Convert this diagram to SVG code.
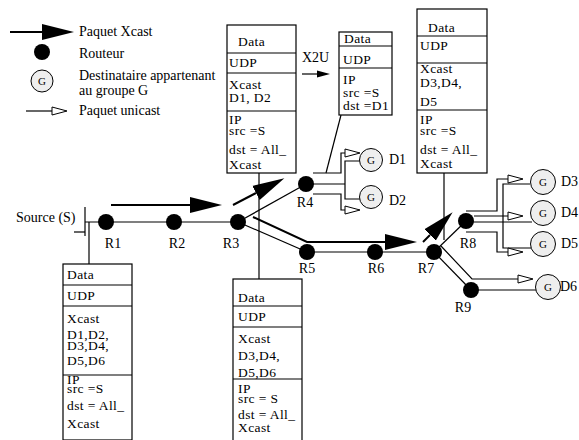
<svg xmlns="http://www.w3.org/2000/svg" width="579" height="440" viewBox="0 0 579 440" font-family="'Liberation Serif', 'Times New Roman', serif">
<defs>
<marker id="xh" markerUnits="userSpaceOnUse" markerWidth="34" markerHeight="20" viewBox="0 -10 34 20" refX="0" refY="0" orient="auto"><path d="M0,-8 L32,0 L0,8 z" fill="#000"/></marker>
<marker id="sh" markerUnits="userSpaceOnUse" markerWidth="15" markerHeight="10" viewBox="0 -5 15 10" refX="0" refY="0" orient="auto"><path d="M0,-3.5 L13,0 L0,3.5 z" fill="#000"/></marker>
<marker id="uh" markerUnits="userSpaceOnUse" markerWidth="18" markerHeight="12" viewBox="-1 -6 18 12" refX="0" refY="0" orient="auto"><path d="M0,-4 L15,0 L0,4 z" fill="#fff" stroke="#000" stroke-width="1"/></marker>
</defs>
<style>
text{font-family:'Liberation Serif','Times New Roman',serif;fill:#000}
.lg{font-size:14px}
.lb{font-size:14px}
.bx{font-size:13.5px;letter-spacing:0.4px}
.g{font-size:11px;text-anchor:middle}
.mid{text-anchor:middle}
.box{fill:#fff;stroke:#000;stroke-width:1.2}
.dv{stroke:#000;stroke-width:1.2}
.link{fill:none;stroke:#000;stroke-width:1.2}
.xc{fill:none;stroke:#000;stroke-width:2}
.uc{fill:none;stroke:#000;stroke-width:1.2}
.rt{fill:#000}
.dst{fill:#eee;stroke:#000;stroke-width:1}
</style>
<rect width="579" height="440" fill="#fff"/>

<g id="legend">
<line x1="10" y1="32" x2="42" y2="32" class="xc" marker-end="url(#xh)"/>
<text class="lg" x="79" y="36">Paquet Xcast</text>
<circle cx="42" cy="52" r="8" class="rt"/>
<text class="lg" x="79" y="58">Routeur</text>
<circle cx="42" cy="81" r="11" class="dst"/>
<text class="g" x="42" y="85">G</text>
<text class="lg" x="79" y="80">Destinataire appartenant</text>
<text class="lg" x="79" y="95">au groupe G</text>
<line x1="26" y1="111" x2="52" y2="111" class="uc" marker-end="url(#uh)"/>
<text class="lg" x="79" y="115">Paquet unicast</text>
</g>

<g id="connectors">
<polyline class="link" points="85,222 238,222"/>
<line class="link" x1="238" y1="222" x2="306" y2="184"/>
<line class="link" x1="238" y1="222" x2="307" y2="252"/>
<line class="link" x1="307" y1="252" x2="434" y2="252"/>
<line class="link" x1="434" y1="252" x2="466" y2="221"/>
<line class="link" x1="434" y1="252" x2="471" y2="290"/>
<line class="link" x1="471" y1="290" x2="536" y2="290"/>
<polyline class="link" points="306,184 345,184"/>
<polyline class="link" points="360,161 345,161 345,199 360,199"/>
<polyline class="link" points="466,222 532,222"/>
<polyline class="link" points="530,184 503,184 503,248 531,248"/>
<line class="xc" x1="111" y1="205" x2="190" y2="205" marker-end="url(#xh)"/>
<line class="xc" x1="233" y1="205" x2="256" y2="193" marker-end="url(#xh)"/>
<polyline class="xc" points="253,217 307,242 385,242" marker-end="url(#xh)"/>
<line class="xc" x1="423" y1="242" x2="430" y2="235" marker-end="url(#xh)"/>
<polyline class="uc" points="313,173 341,173 341,153 345,153" marker-end="url(#uh)"/>
<polyline class="uc" points="313,194 341,194 341,210 345,210" marker-end="url(#uh)"/>
<polyline class="uc" points="466,211 497,211 497,179 508,179" marker-end="url(#uh)"/>
<polyline class="uc" points="474,216 508,216" marker-end="url(#uh)"/>
<polyline class="uc" points="466,232 497,232 497,252 508,252" marker-end="url(#uh)"/>
<polyline class="uc" points="441,246 472,279 518,279" marker-end="url(#uh)"/>
<line x1="302" y1="74" x2="317" y2="74" stroke="#000" stroke-width="1.2" marker-end="url(#sh)"/>
<line class="link" x1="89" y1="222" x2="89" y2="264"/>
<line class="link" x1="259" y1="173" x2="259" y2="279"/>
<line class="link" x1="341" y1="115" x2="326" y2="173"/>
<line class="link" x1="444" y1="173" x2="444" y2="240"/>
</g>

<g id="source">
<line x1="85" y1="207" x2="85" y2="236" stroke="#000" stroke-width="1.2"/>
<line x1="74" y1="232" x2="85" y2="232" stroke="#000" stroke-width="1.2"/>
<text class="lb" x="16" y="222">Source (S)</text>
</g>

<g id="R1"><circle cx="106" cy="222" r="8" class="rt"/><text class="lb mid" x="113" y="248">R1</text></g>
<g id="R2"><circle cx="174" cy="222" r="8" class="rt"/><text class="lb mid" x="177" y="248">R2</text></g>
<g id="R3"><circle cx="238" cy="222" r="8" class="rt"/><text class="lb mid" x="231" y="248">R3</text></g>
<g id="R4"><circle cx="306" cy="184" r="8" class="rt"/><text class="lb mid" x="305" y="207">R4</text></g>
<g id="R5"><circle cx="307" cy="252" r="8" class="rt"/><text class="lb mid" x="307" y="273">R5</text></g>
<g id="R6"><circle cx="375" cy="252" r="8" class="rt"/><text class="lb mid" x="376" y="273">R6</text></g>
<g id="R7"><circle cx="434" cy="252" r="8" class="rt"/><text class="lb mid" x="426" y="273">R7</text></g>
<g id="R8"><circle cx="466" cy="221" r="8" class="rt"/><text class="lb mid" x="468" y="248">R8</text></g>
<g id="R9"><circle cx="471" cy="290" r="8" class="rt"/><text class="lb mid" x="463" y="312">R9</text></g>

<g id="D1"><circle cx="371" cy="160" r="11.5" class="dst"/><text class="g" x="371" y="164">G</text><text class="lb" x="389" y="164">D1</text></g>
<g id="D2"><circle cx="371" cy="197" r="11.5" class="dst"/><text class="g" x="371" y="201">G</text><text class="lb" x="389" y="205">D2</text></g>
<g id="D3"><circle cx="543" cy="182" r="12.5" class="dst"/><text class="g" x="543" y="186">G</text><text class="lb" x="561" y="186">D3</text></g>
<g id="D4"><circle cx="543" cy="213" r="12.5" class="dst"/><text class="g" x="543" y="217">G</text><text class="lb" x="561" y="217">D4</text></g>
<g id="D5"><circle cx="543" cy="244" r="12.5" class="dst"/><text class="g" x="543" y="248">G</text><text class="lb" x="561" y="248">D5</text></g>
<g id="D6"><circle cx="548" cy="287" r="12.5" class="dst"/><text class="g" x="548" y="291">G</text><text class="lb" x="560" y="291">D6</text></g>

<g id="box-R1">
<rect class="box" x="63" y="264" width="69" height="176"/>
<line class="dv" x1="63" y1="285" x2="132" y2="285"/>
<line class="dv" x1="63" y1="306" x2="132" y2="306"/>
<line class="dv" x1="63" y1="375" x2="132" y2="375"/>
<text class="bx" x="67" y="279">Data</text>
<text class="bx" x="67" y="300">UDP</text>
<text class="bx" x="67" y="323">Xcast</text>
<text class="bx" x="67" y="339">D1,D2,</text>
<text class="bx" x="67" y="350">D3,D4,</text>
<text class="bx" x="67" y="365">D5,D6</text>
<text class="bx" x="67" y="384">IP</text>
<text class="bx" x="67" y="393">src =S</text>
<text class="bx" x="67" y="410">dst = All_</text>
<text class="bx" x="67" y="428">Xcast</text>
</g>

<g id="box-R3">
<rect class="box" x="227" y="25" width="69" height="148"/>
<line class="dv" x1="227" y1="53" x2="296" y2="53"/>
<line class="dv" x1="227" y1="73" x2="296" y2="73"/>
<line class="dv" x1="227" y1="111" x2="296" y2="111"/>
<text class="bx" x="238" y="46">Data</text>
<text class="bx" x="229" y="67">UDP</text>
<text class="bx" x="229" y="89">Xcast</text>
<text class="bx" x="229" y="102">D1, D2</text>
<text class="bx" x="229" y="124">IP</text>
<text class="bx" x="229" y="135">src =S</text>
<text class="bx" x="229" y="154">dst = All_</text>
<text class="bx" x="229" y="169">Xcast</text>
</g>

<g id="box-X2U">
<text class="lb" x="302" y="62">X2U</text>
<rect class="box" x="339" y="32" width="53" height="83"/>
<line class="dv" x1="339" y1="46" x2="392" y2="46"/>
<line class="dv" x1="339" y1="68" x2="392" y2="68"/>
<text class="bx" x="344" y="43">Data</text>
<text class="bx" x="343" y="64">UDP</text>
<text class="bx" x="343" y="84">IP</text>
<text class="bx" x="343" y="97">src =S</text>
<text class="bx" x="343" y="110">dst =D1</text>
</g>

<g id="box-R5">
<rect class="box" x="233" y="279" width="69" height="165"/>
<line class="dv" x1="233" y1="306" x2="302" y2="306"/>
<line class="dv" x1="233" y1="327" x2="302" y2="327"/>
<line class="dv" x1="233" y1="379" x2="302" y2="379"/>
<text class="bx" x="238" y="302">Data</text>
<text class="bx" x="238" y="321">UDP</text>
<text class="bx" x="238" y="343">Xcast</text>
<text class="bx" x="238" y="360">D3,D4,</text>
<text class="bx" x="238" y="377">D5,D6</text>
<text class="bx" x="238" y="393">IP</text>
<text class="bx" x="238" y="403">src = S</text>
<text class="bx" x="238" y="419">dst = All_</text>
<text class="bx" x="238" y="432">Xcast</text>
</g>

<g id="box-R7">
<rect class="box" x="417" y="9" width="70" height="164"/>
<line class="dv" x1="417" y1="36" x2="487" y2="36"/>
<line class="dv" x1="417" y1="63" x2="487" y2="63"/>
<line class="dv" x1="417" y1="110" x2="487" y2="110"/>
<text class="bx" x="428" y="32">Data</text>
<text class="bx" x="420" y="50">UDP</text>
<text class="bx" x="420" y="73">Xcast</text>
<text class="bx" x="420" y="87">D3,D4,</text>
<text class="bx" x="420" y="106">D5</text>
<text class="bx" x="420" y="124">IP</text>
<text class="bx" x="420" y="135">src =S</text>
<text class="bx" x="420" y="154">dst = All_</text>
<text class="bx" x="420" y="168">Xcast</text>
</g>
</svg>
